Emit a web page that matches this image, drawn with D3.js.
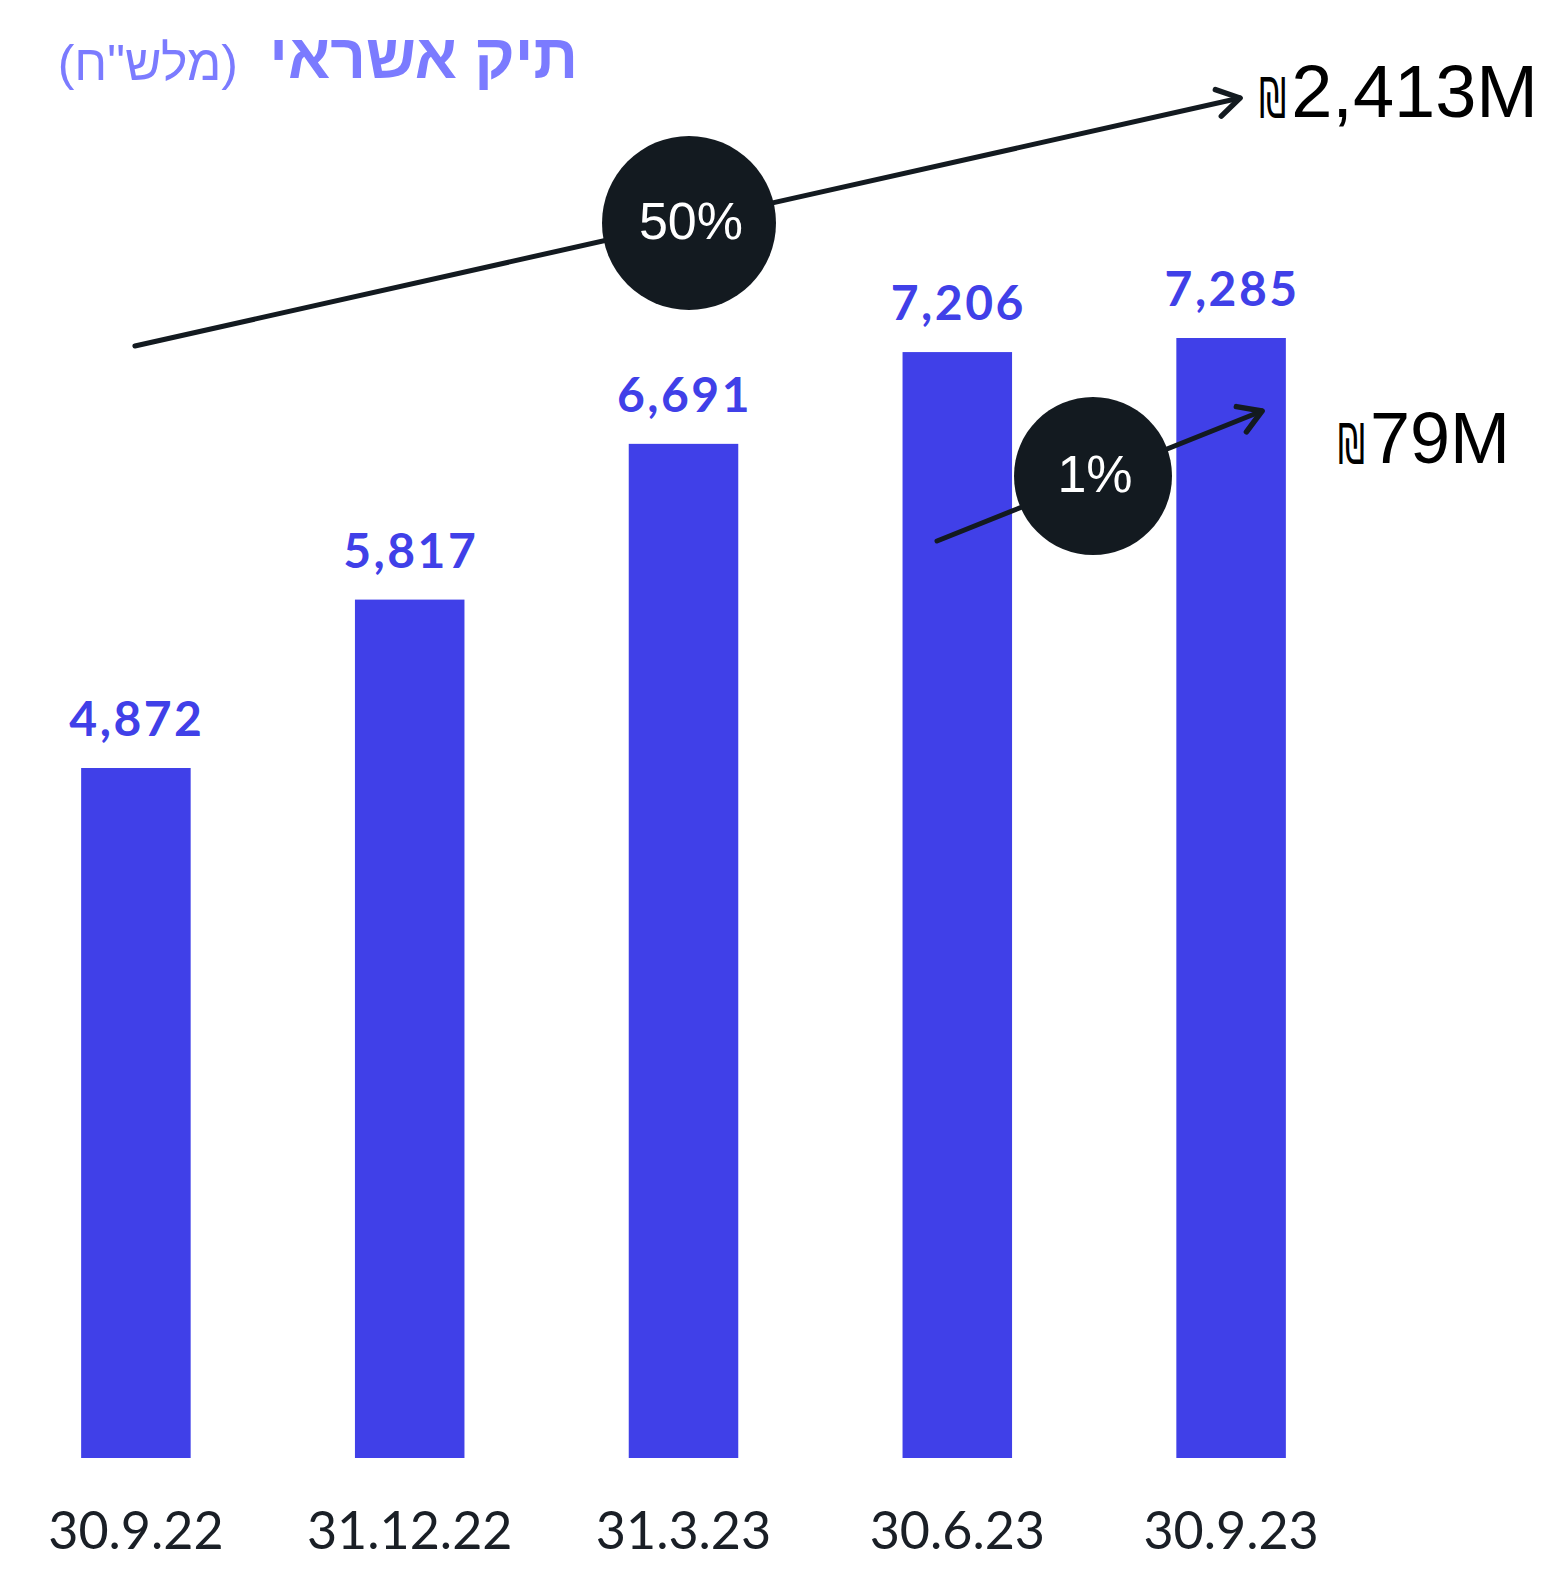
<!DOCTYPE html>
<html><head><meta charset="utf-8">
<script src="https://cdn.jsdelivr.net/npm/d3@7"></script>
<style>body{margin:0;background:#fff}svg{display:block}</style>
</head><body>
<script>
const categories = ["30.9.22","31.12.22","31.3.23","30.6.23","30.9.23"];
const values = [4872,5817,6691,7206,7285];
const valueLabels = ["4,872","5,817","6,691","7,206","7,285"];
const growthPct = ["50%","1%"];
const growthAmt = ["2,413M","79M"];
const shekel = "₪";
const titleMain = "תיק אשראי";
const titleUnit = "(מלש\"ח)";

const W=1562,H=1570;
const svg=d3.select("body").append("svg").attr("width",W).attr("height",H);
const x=d3.scaleBand().domain(categories).range([-1,1368]).paddingInner(0.6).paddingOuter(0.3);
const y=d3.scaleLinear().domain([1000,7285]).range([1458,338]);
const barColor="#4040E8", dark="#131A20";

svg.selectAll("rect.bar").data(values).join("rect").attr("class","bar")
  .attr("x",(d,i)=>x(categories[i])).attr("width",x.bandwidth())
  .attr("y",d=>y(d)).attr("height",d=>y.range()[0]-y(d)).attr("fill",barColor);

svg.selectAll("text.val").data(values).join("text").attr("class","val")
  .attr("x",(d,i)=>x(categories[i])+x.bandwidth()/2+1).attr("y",d=>y(d)-32)
  .attr("text-anchor","middle").attr("font-family","Lato").attr("font-weight",700)
  .attr("font-size",48).attr("letter-spacing",2.5).attr("fill",barColor).text((d,i)=>valueLabels[i]);

const xAxis=svg.append("g").attr("transform","translate(0,1458)").call(d3.axisBottom(x).tickSize(0).tickPadding(0));
xAxis.select(".domain").remove();
xAxis.selectAll("text").attr("font-family","Lato").attr("font-size",52).attr("fill","#1a1f26")
  .attr("dy",null).attr("y",91).attr("font-weight",400);

// title
svg.append("text").attr("x",578).attr("y",78).attr("text-anchor","end")
  .attr("font-family","Liberation Sans").attr("font-size",62).attr("font-weight",700).attr("fill","#7B7BFF").text(titleMain);
svg.append("text").attr("x",238).attr("y",80).attr("text-anchor","end")
  .attr("font-family","Liberation Sans").attr("font-size",50).attr("fill","#7B7BFF").text(titleUnit);

// arrows
function arrow(x1,y1,x2,y2){
  svg.append("line").attr("x1",x1).attr("y1",y1).attr("x2",x2).attr("y2",y2)
    .attr("stroke",dark).attr("stroke-width",5).attr("stroke-linecap","round");
  const a=Math.atan2(y2-y1,x2-x1), L=26, s=0.55;
  const p=d3.path();
  p.moveTo(x2-L*Math.cos(a-s),y2-L*Math.sin(a-s)); p.lineTo(x2,y2);
  p.lineTo(x2-L*Math.cos(a+s),y2-L*Math.sin(a+s));
  svg.append("path").attr("d",p.toString()).attr("fill","none").attr("stroke",dark)
    .attr("stroke-width",5.5).attr("stroke-linecap","round").attr("stroke-linejoin","round");
}
arrow(x(categories[0])+x.bandwidth()/2-1,346,1240,98);
arrow(937,541,1262,411);

function bubble(cx,cy,r,t){
  svg.append("circle").attr("cx",cx).attr("cy",cy).attr("r",r).attr("fill",dark);
  svg.append("text").attr("x",cx+2).attr("y",cy+16).attr("text-anchor","middle")
    .attr("font-family","Liberation Sans").attr("font-size",52).attr("fill","#fff").text(t);
}
bubble(689,223,87,growthPct[0]);
bubble(1093,476,79,growthPct[1]);

function amount(xe,yb,t,fs){
  const tx=svg.append("text").attr("x",xe).attr("y",yb).attr("text-anchor","end")
    .attr("font-family","Liberation Sans").attr("font-size",fs).attr("fill","#000").text(t);
  const w=tx.node().getComputedTextLength();
  const sx=xe-w-5;
  svg.append("text").attr("transform",`translate(${sx},${yb}) scale(0.62,1)`).attr("text-anchor","end")
    .attr("font-family","DejaVu Sans").attr("font-size",56).attr("fill","#000").text(shekel);
}
amount(1538,117,growthAmt[0],74);
amount(1510,463,growthAmt[1],72);
</script>
</body></html>
